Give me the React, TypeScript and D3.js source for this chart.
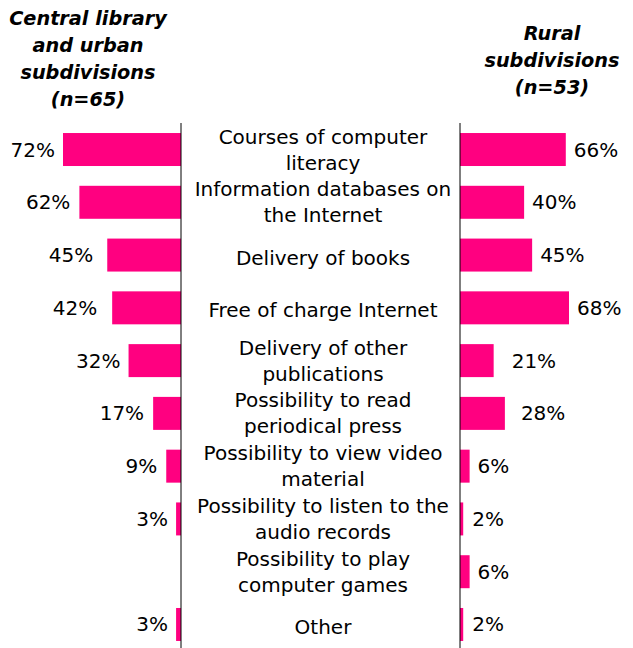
import React from "react";
import * as d3 from "d3";

const categories: string[][] = [
  ["Courses of computer", "literacy"],
  ["Information databases on", "the Internet"],
  ["Delivery of books"],
  ["Free of charge Internet"],
  ["Delivery of other", "publications"],
  ["Possibility to read", "periodical press"],
  ["Possibility to view video", "material"],
  ["Possibility to listen to the", "audio records"],
  ["Possibility to play", "computer games"],
  ["Other"],
];
const urbanValues: (number | null)[] = [72, 62, 45, 42, 32, 17, 9, 3, null, 3];
const ruralValues: (number | null)[] = [66, 40, 45, 68, 21, 28, 6, 2, 6, 2];
const leftTitle = ["Central library", "and urban", "subdivisions", "(n=65)"];
const rightTitle = ["Rural", "subdivisions", "(n=53)"];

// layout: extra gap between bar end and value label (manual placement in the original)
const leftLabelGap = [8, 9, 14, 15, 8, 9, 9, 8, 8, 8];
const rightLabelGap = [8, 8, 8, 8, 18, 16, 8, 9, 8, 9];

const W = 633;
const H = 648;
const PINK = "#FF0080";
const FONT = "'DejaVu Sans', Verdana, sans-serif";

export default function App() {
  const leftAxisX = 181;
  const rightAxisX = 460;
  const y = d3
    .scaleBand<number>()
    .domain(d3.range(categories.length))
    .range([123, 651])
    .paddingInner(0.375)
    .paddingOuter(0.19);
  const xl = d3.scaleLinear().domain([0, 72]).range([0, 118]);
  const xr = d3.scaleLinear().domain([0, 68]).range([0, 109]);
  const bw = y.bandwidth();

  return (
    <svg
      width={W}
      height={H}
      style={{ position: "absolute", left: 0, top: 0, display: "block", background: "#fff" }}
      fontFamily={FONT}
    >
      <rect width={W} height={H} fill="#fff" />
      {leftTitle.map((t, i) => (
        <text key={"lt" + i} x={88} y={18 + i * 27} textAnchor="middle" dominantBaseline="central"
          fontSize={19.3} fontWeight="bold" fontStyle="italic" fill="#000">{t}</text>
      ))}
      {rightTitle.map((t, i) => (
        <text key={"rt" + i} x={552} y={33 + i * 27} textAnchor="middle" dominantBaseline="central"
          fontSize={19.3} fontWeight="bold" fontStyle="italic" fill="#000">{t}</text>
      ))}
      {categories.map((lines, i) => {
        const y0 = y(i)!;
        const cy = y0 + bw / 2;
        const lv = urbanValues[i];
        const rv = ruralValues[i];
        return (
          <g key={i}>
            {lv != null && (
              <>
                <rect x={leftAxisX - xl(lv)} y={y0} width={xl(lv)} height={bw} fill={PINK} />
                <text x={leftAxisX - xl(lv) - leftLabelGap[i]} y={cy} textAnchor="end" dominantBaseline="central"
                  fontSize={20} fill="#000">{lv}%</text>
              </>
            )}
            {rv != null && (
              <>
                <rect x={rightAxisX} y={y0} width={xr(rv)} height={bw} fill={PINK} />
                <text x={rightAxisX + xr(rv) + rightLabelGap[i]} y={cy} textAnchor="start" dominantBaseline="central"
                  fontSize={20} fill="#000">{rv}%</text>
              </>
            )}
            {lines.map((l, j) => (
              <text key={j} x={323} y={cy + (lines.length === 1 ? 2.5 : (j - 0.5) * 26)}
                textAnchor="middle" dominantBaseline="central" fontSize={20} fill="#000">{l}</text>
            ))}
          </g>
        );
      })}
      <line x1={leftAxisX} x2={leftAxisX} y1={123} y2={H} stroke="#000" strokeWidth={1} />
      <line x1={rightAxisX} x2={rightAxisX} y1={123} y2={H} stroke="#000" strokeWidth={1} />
    </svg>
  );
}
